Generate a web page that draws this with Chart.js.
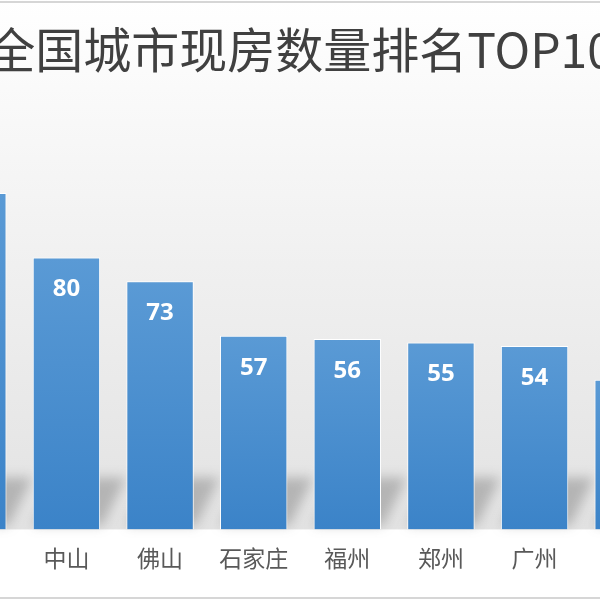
<!DOCTYPE html>
<html>
<head>
<meta charset="utf-8">
<script src="https://cdn.jsdelivr.net/npm/chart.js@4"></script>
<style>
  html, body { margin: 0; padding: 0; width: 600px; height: 600px; overflow: hidden; background: #fff; }
  #frame { position: absolute; left: 0; top: 0; width: 600px; height: 600px; overflow: hidden; }
  #wrap { position: absolute; left: -74px; top: 0; width: 749px; height: 600px; }
  .edge { position: absolute; left: 0; width: 600px; height: 2px; background: #d6d6d6; }
</style>
</head>
<body>
<div id="frame">
  <div id="wrap"><canvas id="chart"></canvas></div>
  <div class="edge" style="top:1px"></div>
  <div class="edge" style="top:597px"></div>
</div>
<script>
// chart data (first and last bars are cut off in the picture)
const titleText = '全国城市现房数量排名TOP10';
const cities = ['', '中山', '佛山', '石家庄', '福州', '郑州', '广州', ''];
const counts = [99, 80, 73, 57, 56, 55, 54, 44];
const yMax = 130;

// soft grey background that darkens toward the baseline
const backdrop = {
    id: 'backdrop',
    beforeDraw(chart) {
        const { ctx, chartArea } = chart;
        ctx.save();
        ctx.fillStyle = '#ffffff';
        ctx.fillRect(0, 0, chart.width, chart.height);
        const g = ctx.createLinearGradient(0, 0, 0, chartArea.bottom);
        g.addColorStop(0, '#ffffff');
        g.addColorStop(0.5, '#f0f0f0');
        g.addColorStop(1, '#e2e2e2');
        ctx.fillStyle = g;
        ctx.fillRect(0, 0, chart.width, chartArea.bottom);
        ctx.restore();
    }
};

// slanted shadow behind the foot of each bar
const barShadow = {
    id: 'barShadow',
    beforeDatasetsDraw(chart) {
        const { ctx } = chart;
        const meta = chart.getDatasetMeta(0);
        ctx.save();
        ctx.filter = 'blur(6px)';
        ctx.fillStyle = 'rgba(80,80,80,0.32)';
        meta.data.forEach(bar => {
            const left = bar.x - bar.width / 2;
            const right = bar.x + bar.width / 2;
            const h = Math.min(bar.base - bar.y, 52);
            ctx.beginPath();
            ctx.moveTo(left, bar.base - 4);
            ctx.lineTo(right + 2, bar.base - 4);
            ctx.lineTo(right + 26, bar.base - h);
            ctx.lineTo(left + 26, bar.base - h);
            ctx.closePath();
            ctx.fill();
        });
        ctx.restore();
    }
};

// white value labels inside the top of each bar
const valueLabels = {
    id: 'valueLabels',
    afterDatasetsDraw(chart) {
        const { ctx } = chart;
        const meta = chart.getDatasetMeta(0);
        ctx.save();
        ctx.fillStyle = '#ffffff';
        ctx.font = 'bold 24px "Open Sans", "DejaVu Sans", sans-serif';
        ctx.textAlign = 'center';
        ctx.textBaseline = 'middle';
        meta.data.forEach((bar, i) => {
            ctx.fillText(String(counts[i]), bar.x, bar.y + 32);
        });
        ctx.restore();
    }
};

function barFill(context) {
    const chart = context.chart;
    const { chartArea, scales } = chart;
    if (!chartArea || !scales.y) return '#4a8fd0';
    const top = scales.y.getPixelForValue(context.raw);
    const g = chart.ctx.createLinearGradient(0, top, 0, chartArea.bottom);
    g.addColorStop(0, '#5a9ad5');
    g.addColorStop(1, '#3b83c8');
    return g;
}

new Chart(document.getElementById('chart'), {
    type: 'bar',
    data: {
        labels: cities,
        datasets: [{
            data: counts,
            backgroundColor: barFill,
            borderColor: '#ffffff',
            borderWidth: 1,
            categoryPercentage: 1,
            barPercentage: 0.72
        }]
    },
    options: {
        responsive: true,
        maintainAspectRatio: false,
        animation: false,
        layout: { padding: { left: 0, right: 0, top: 0, bottom: 13 } },
        scales: {
            x: {
                grid: { display: false, drawTicks: false },
                border: { display: false },
                ticks: {
                    color: '#595959',
                    padding: 15,
                    font: { size: 23, family: '"Noto Sans CJK SC", sans-serif' }
                }
            },
            y: {
                display: false,
                min: 0,
                max: yMax
            }
        },
        plugins: {
            legend: { display: false },
            tooltip: { enabled: false },
            title: {
                display: true,
                text: titleText,
                color: '#404040',
                padding: { top: 21, bottom: 9 },
                font: { size: 48, weight: 'normal', family: '"Noto Sans CJK SC", sans-serif', lineHeight: 1.2 }
            }
        }
    },
    plugins: [backdrop, barShadow, valueLabels]
});
</script>
</body>
</html>
